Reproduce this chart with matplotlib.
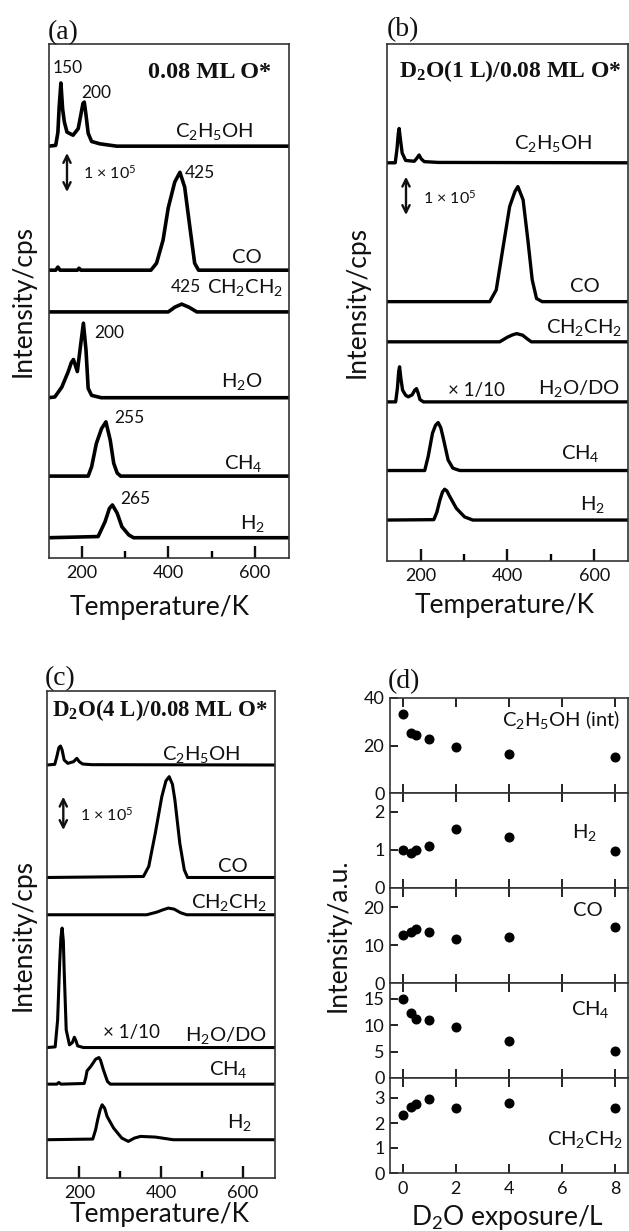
import numpy as np
import matplotlib.pyplot as plt

# ---- panel (a): 0.08 ML O*  (T in K, intensity in units of 1e5 cps) ----
a_c2h5oh_T = [124, 140, 145, 148, 152, 156, 160, 166, 180, 192, 198, 203, 206, 210, 215, 223, 242, 281, 680]
a_c2h5oh_I = [0, 0.02, 0.35, 1.0, 1.62, 0.95, 0.62, 0.36, 0.28, 0.45, 0.8, 1.1, 1.13, 0.8, 0.33, 0.12, 0.06, 0.0, 0]
a_co_T = [124, 140, 145, 150, 190, 194, 198, 360, 373, 388, 400, 415, 427, 438, 450, 461, 470, 680]
a_co_I = [0, 0, 0.08, 0, 0, 0.05, 0, 0, 0.18, 0.77, 1.6, 2.26, 2.51, 2.13, 1.1, 0.18, 0, 0]
a_ch2ch2_T = [124, 400, 415, 431, 448, 466, 680]
a_ch2ch2_I = [0, 0, 0.12, 0.2, 0.12, 0, 0]
a_h2o_T = [124, 138, 154, 169, 176, 181, 190, 198, 204, 210, 215, 223, 245, 680]
a_h2o_I = [0, 0.02, 0.27, 0.67, 0.9, 0.98, 0.67, 1.39, 1.91, 1.22, 0.24, 0.06, 0, 0]
a_ch4_T = [124, 215, 223, 234, 246, 256, 266, 274, 282, 290, 680]
a_ch4_I = [0, 0, 0.24, 0.84, 1.22, 1.39, 0.92, 0.33, 0.08, 0, 0]
a_h2_T = [124, 238, 254, 264, 271, 282, 293, 309, 320, 680]
a_h2_I = [0, 0.03, 0.41, 0.75, 0.84, 0.63, 0.28, 0.07, 0, 0]

# ---- panel (b): D2O(1 L)/0.08 ML O* ----
b_c2h5oh_T = [122, 141, 145, 148, 150, 153, 157, 165, 185, 191, 196, 201, 208, 240, 678]
b_c2h5oh_I = [0, 0, 0.35, 0.75, 0.88, 0.6, 0.25, 0.06, 0.04, 0.12, 0.2, 0.1, 0.03, 0.01, 0]
b_co_T = [122, 359, 374, 390, 405, 417, 424, 436, 447, 457, 467, 480, 678]
b_co_I = [0, 0, 0.3, 1.41, 2.44, 2.82, 2.95, 2.61, 1.58, 0.56, 0.08, 0, 0]
b_ch2ch2_T = [122, 382, 400, 412, 421, 435, 445, 455, 678]
b_ch2ch2_I = [0, 0, 0.12, 0.18, 0.21, 0.17, 0.08, 0, 0]
b_h2o_T = [122, 142, 146, 149, 151, 154, 158, 165, 171, 180, 186, 190, 194, 198, 206, 678]
b_h2o_I = [0, 0, 0.35, 0.78, 0.9, 0.6, 0.3, 0.17, 0.13, 0.18, 0.3, 0.34, 0.22, 0.06, 0, 0]
b_ch4_T = [122, 209, 217, 227, 234, 240, 246, 251, 263, 274, 290, 678]
b_ch4_I = [0, 0, 0.36, 0.96, 1.16, 1.23, 1.1, 0.87, 0.27, 0.06, 0, 0]
b_h2_T = [122, 230, 237, 244, 250, 255, 260, 267, 282, 301, 320, 678]
b_h2_I = [0, 0.01, 0.2, 0.51, 0.72, 0.79, 0.75, 0.6, 0.3, 0.08, 0, 0]

# ---- panel (c): D2O(4 L)/0.08 ML O* ----
c_c2h5oh_T = [121, 140, 145, 150, 154, 158, 163, 172, 186, 194, 200, 208, 230, 679]
c_c2h5oh_I = [0, 0.02, 0.25, 0.52, 0.57, 0.45, 0.15, 0.05, 0.1, 0.2, 0.1, 0.03, 0.01, 0]
c_co_T = [121, 357, 370, 386, 402, 412, 420, 428, 434, 446, 457, 465, 679]
c_co_I = [0, 0.03, 0.33, 1.33, 2.43, 2.9, 3.03, 2.8, 2.33, 1.03, 0.23, 0, 0]
c_ch2ch2_T = [121, 365, 390, 405, 418, 432, 448, 463, 679]
c_ch2ch2_I = [0, 0, 0.08, 0.15, 0.2, 0.17, 0.06, 0, 0]
c_h2o_T = [121, 141, 147, 152, 155, 158, 161, 163, 168, 176, 183, 188, 192, 196, 210, 679]
c_h2o_I = [0, 0.02, 0.83, 2.53, 3.3, 3.59, 3.2, 2.33, 0.53, 0.08, 0.15, 0.31, 0.2, 0.05, 0, 0]
c_ch4_T = [121, 145, 150, 155, 212, 216, 219, 228, 240, 248, 252, 259, 269, 276, 679]
c_ch4_I = [0, 0, 0.05, 0, 0.02, 0.2, 0.4, 0.53, 0.75, 0.8, 0.72, 0.43, 0.08, 0, 0]
c_h2_T = [121, 233, 240, 245, 251, 256, 262, 268, 284, 304, 320, 335, 350, 386, 430, 679]
c_h2_I = [0, 0.02, 0.3, 0.6, 0.9, 1.05, 0.95, 0.7, 0.35, 0.05, -0.05, 0.05, 0.1, 0.08, 0, 0]

# ---- panel (d): intensity vs D2O exposure ----
d_exposure = [0, 0.3, 0.5, 1, 2, 4, 8]
d_c2h5oh = [33.3, 25.4, 24.4, 22.7, 19.4, 16.3, 15.3]
d_h2 = [1.0, 0.91, 1.0, 1.11, 1.55, 1.33, 0.98]
d_co = [12.6, 13.3, 14.1, 13.4, 11.7, 12.0, 14.8]
d_ch4 = [14.9, 12.3, 11.25, 11.07, 9.7, 7.0, 5.1]
d_ch2ch2 = [2.33, 2.66, 2.76, 2.97, 2.62, 2.8, 2.6]

d_labels = [r'C$\mathregular{_2}$H$\mathregular{_5}$OH (int)', r'H$\mathregular{_2}$', 'CO',
            r'CH$\mathregular{_4}$', r'CH$\mathregular{_2}$CH$\mathregular{_2}$']
d_ylims = [40, 2.5, 25, 18, 3.8]
d_yticks = [[0, 20, 40], [0, 1, 2], [0, 10, 20], [0, 5, 10, 15], [0, 1, 2, 3]]

C2H5OH = r'C$\mathregular{_2}$H$\mathregular{_5}$OH'
CH2CH2 = r'CH$\mathregular{_2}$CH$\mathregular{_2}$'
CH4 = r'CH$\mathregular{_4}$'
H2 = r'H$\mathregular{_2}$'
SCALE = r'1 × 10$\mathregular{^5}$'

# ---------------------------------------------------------------------------
W, H = 629, 1231
plt.rcParams['font.family'] = ['Lato', 'DejaVu Sans']
SERIF = 'Liberation Serif'
INK = '#111111'
LBL = 14.5     # species labels
PK = 12.5      # peak temperature labels
TICK = 13
AXL = 19


def box(l, t, r, b):
    return [l / W, 1 - b / H, (r - l) / W, (b - t) / H]


def P(x, y):
    return x / W, 1 - y / H


fig = plt.figure(figsize=(W / 100, H / 100), dpi=100)


def txt(x, y, s, size=LBL, ha='right', va='baseline', **kw):
    fig.text(*P(x, y), s, fontsize=size, ha=ha, va=va, color=INK, **kw)


def arrow(x, y1, y2):
    plt.annotate('', xy=P(x, y1), xytext=P(x, y2), xycoords='figure fraction',
                 textcoords='figure fraction',
                 arrowprops=dict(arrowstyle='<->', lw=1.7, color=INK, mutation_scale=13,
                                 shrinkA=0, shrinkB=0))


def tpd_panel(rect, xlim, ytop, curves, offsets, lw):
    ax = fig.add_axes(rect)
    for (T, I), off in zip(curves, offsets):
        ax.plot(T, np.array(I) + off, color='black', lw=lw, solid_joinstyle='round')
    ax.set_xlim(*xlim)
    ax.set_ylim(0, ytop)
    ax.set_yticks([])
    ax.set_xticks([200, 400, 600])
    ax.set_xticks([300, 500], minor=True)
    ax.tick_params(axis='x', which='major', direction='in', length=9, width=1.7,
                   labelsize=TICK, pad=5, colors=INK)
    ax.tick_params(axis='x', which='minor', direction='in', length=5, width=1.7)
    for s in ax.spines.values():
        s.set_linewidth(1.2)
        s.set_color('#333333')
    return ax


# ---- (a) ----
ax_a = tpd_panel(box(49, 44, 289, 558), (124.5, 679), 514 / 39,
                 [(a_c2h5oh_T, a_c2h5oh_I), (a_co_T, a_co_I), (a_ch2ch2_T, a_ch2ch2_I),
                  (a_h2o_T, a_h2o_I), (a_ch4_T, a_ch4_I), (a_h2_T, a_h2_I)],
                 [10.56, 7.38, 6.31, 4.11, 2.10, 0.52], 2.6)
txt(48, 39.5, '(a)', size=20, ha='left', family=SERIF)
txt(210, 78, '0.08 ML O*', size=17.5, ha='center', family=SERIF, weight='bold')
txt(253, 137, C2H5OH)
txt(262, 263, 'CO')
txt(283, 293, CH2CH2)
txt(262, 387, r'H$\mathregular{_2}$O')
txt(263, 469, CH4)
txt(265, 529, H2)
for x, y, s in [(68, 68, '150'), (96, 93, '200'), (200, 173, '425'), (186, 287, '425'),
                (109, 333, '200'), (129, 418, '255'), (135, 499, '265')]:
    txt(x, y, s, size=PK, ha='center', va='center')
arrow(67, 153, 192)
txt(83, 179, SCALE, size=11.5, ha='left')
txt(160, 615, 'Temperature/K', size=AXL, ha='center')
txt(23, 301, 'Intensity/cps', size=AXL, ha='center', va='center', rotation=90)

# ---- (b) ----
ax_b = tpd_panel(box(387, 44, 628, 561), (122, 678), 517 / 39,
                 [(b_c2h5oh_T, b_c2h5oh_I), (b_co_T, b_co_I), (b_ch2ch2_T, b_ch2ch2_I),
                  (b_h2o_T, b_h2o_I), (b_ch4_T, b_ch4_I), (b_h2_T, b_h2_I)],
                 [10.21, 6.65, 5.62, 4.08, 2.32, 1.05], 2.4)
txt(387, 36.5, '(b)', size=20, ha='left', family=SERIF)
txt(510, 77, r'D$\mathregular{_2}$O(1 L)/0.08 ML O*', size=17, ha='center',
    family=SERIF, weight='bold')
txt(592, 149, C2H5OH)
txt(600, 291.5, 'CO')
txt(622, 333, CH2CH2)
txt(620, 394, r'H$\mathregular{_2}$O/DO')
txt(600, 459, CH4)
txt(605, 510, H2)
txt(448, 396, '× 1/10', size=13.5, ha='left')
arrow(406, 176.7, 215)
txt(423, 204, SCALE, size=11.5, ha='left')
txt(505, 613, 'Temperature/K', size=AXL, ha='center')
txt(357, 302, 'Intensity/cps', size=AXL, ha='center', va='center', rotation=90)

# ---- (c) ----
ax_c = tpd_panel(box(47, 691, 275, 1178), (121, 679), 487.3 / 33.3,
                 [(c_c2h5oh_T, c_c2h5oh_I), (c_co_T, c_co_I), (c_ch2ch2_T, c_ch2ch2_I),
                  (c_h2o_T, c_h2o_I), (c_ch4_T, c_ch4_I), (c_h2_T, c_h2_I)],
                 [12.41, 9.03, 7.91, 3.92, 2.82, 1.15], 2.2)
txt(45, 685, '(c)', size=20, ha='left', family=SERIF)
txt(160, 716.5, r'D$\mathregular{_2}$O(4 L)/0.08 ML O*', size=16.5, ha='center',
    family=SERIF, weight='bold')
txt(240, 760, C2H5OH)
txt(248, 871.5, 'CO')
txt(267, 908, CH2CH2)
txt(267, 1041.5, r'H$\mathregular{_2}$O/DO')
txt(248, 1075, CH4)
txt(252, 1128, H2)
txt(103, 1038, '× 1/10', size=13.5, ha='left')
arrow(63.3, 796.7, 830)
txt(80, 821, SCALE, size=11.5, ha='left')
txt(160, 1222, 'Temperature/K', size=AXL, ha='center')
txt(23, 935, 'Intensity/cps', size=AXL, ha='center', va='center', rotation=90)

# ---- (d) ----
edges = [698, 793, 888, 983, 1078, 1173]
d_series = [d_c2h5oh, d_h2, d_co, d_ch4, d_ch2ch2]
for i, vals in enumerate(d_series):
    ax = fig.add_axes(box(390, edges[i], 628, edges[i + 1]))
    ax.plot(d_exposure, vals, 'o', color='black', markersize=6.2)
    ax.set_xlim(-0.48, 8.48)
    ax.set_ylim(0, d_ylims[i])
    ax.set_xticks([0, 2, 4, 6, 8])
    ax.set_yticks(d_yticks[i])
    ax.tick_params(axis='x', direction='in', top=True, bottom=True, length=6.5, width=1.3,
                   labelbottom=(i == 4), labelsize=TICK, pad=6, colors=INK)
    ax.tick_params(axis='y', direction='in', length=6, width=1.3, labelsize=TICK, pad=4,
                   colors=INK)
    for s in ax.spines.values():
        s.set_linewidth(1.2)
        s.set_color('#333333')
txt(388, 688, '(d)', size=20, ha='left', family=SERIF)
for (x, y), s in zip([(620, 726), (597, 838), (603, 916), (610, 1015), (623, 1145)], d_labels):
    txt(x, y, s)
txt(508, 1225, r'D$\mathregular{_2}$O exposure/L', size=AXL, ha='center')
txt(338, 935, 'Intensity/a.u.', size=AXL, ha='center', va='center', rotation=90)

fig.savefig('out.png', dpi=100)
